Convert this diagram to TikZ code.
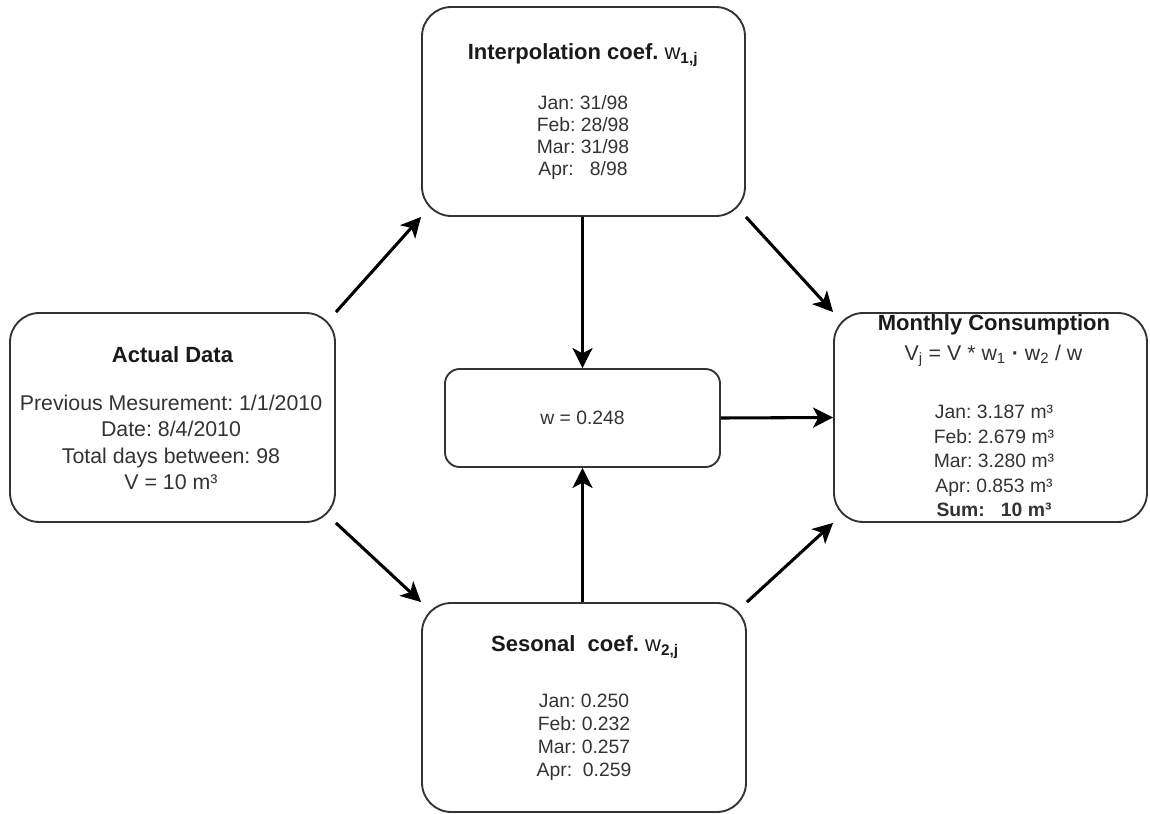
\documentclass[tikz,border=0pt]{standalone}
\usepackage{fontspec}
\setmainfont{Liberation Sans}
\usetikzlibrary{arrows.meta}
\definecolor{boxgray}{HTML}{333333}
\definecolor{txt}{HTML}{333333}
\definecolor{ttl}{HTML}{1A1A1A}
\tikzset{
  box/.style={draw=boxgray, line width=1.4pt, rounded corners=22pt, inner sep=0pt},
  smallbox/.style={draw=boxgray, line width=1.4pt, rounded corners=11pt, inner sep=0pt},
  ttlnode/.style={text=ttl, font=\fontsize{16.5}{19}\selectfont\bfseries, inner sep=0pt},
  bodynode/.style={text=txt, align=center, inner sep=0pt},
  arr/.style={draw=black, line width=2.3pt, -{Stealth[length=15pt,width=15pt,inset=4pt]}},
}
\frenchspacing
\begin{document}
\frenchspacing
\begin{tikzpicture}[x=0.75pt,y=-0.75pt]
\useasboundingbox (0,0) rectangle (1150,814);
% boxes
\node[box, minimum width=242.25pt, minimum height=156.75pt] (top) at (583.5,111.5) {};
\node[box, minimum width=243.75pt, minimum height=156.75pt] (left) at (172.5,417.5) {};
\node[box, minimum width=234.75pt, minimum height=156.75pt] (right) at (990.5,417.5) {};
\node[box, minimum width=243pt, minimum height=156.75pt] (bottom) at (584,707.5) {};
\node[smallbox, minimum width=206.25pt, minimum height=73.5pt] (center) at (582.5,418) {};
% texts: top
\node[ttlnode] (toptitle) at (583,55) {Interpolation coef. {\mdseries w\textsubscript{\bfseries 1,j}}};
\node[bodynode, font=\fontsize{14.5}{16.3}\selectfont] (topbody) at (583,137.5)
  {Jan: 31/98\\Feb: 28/98\\Mar: 31/98\\Apr:\ \ \ 8/98};
% left
\node[ttlnode] (lefttitle) at (172.5,355) {Actual Data};
\node[bodynode, font=\fontsize{16}{19.7}\selectfont] (leftbody) at (171,442.5)
  {Previous Mesurement: 1/1/2010\\Date: 8/4/2010\\Total days between: 98\\V = 10 m³};
% right
\node[ttlnode] (righttitle) at (994,325) {Monthly Consumption};
\node[bodynode, font=\fontsize{16}{19}\selectfont] (formula) at (993.5,356)
  {V\textsubscript{j} = V * w\textsubscript{1} {\bfseries ·} w\textsubscript{2} / w};
\node[bodynode, font=\fontsize{14.5}{18.4}\selectfont] (rightbody) at (994,461)
  {Jan: 3.187 m³\\Feb: 2.679 m³\\Mar: 3.280 m³\\Apr: 0.853 m³\\\textbf{Sum:\ \ \ 10 m³}};
% bottom
\node[ttlnode] (bottomtitle) at (585,647) {Sesonal\ \ coef. {\mdseries w\textsubscript{\bfseries 2,j}}};
\node[bodynode, font=\fontsize{14.5}{17.3}\selectfont] (bottombody) at (584,737.5)
  {Jan: 0.250\\Feb: 0.232\\Mar: 0.257\\Apr:\ \ 0.259};
% center
\node[bodynode, font=\fontsize{14.5}{17}\selectfont] (centertext) at (582.5,418) {w = 0.248};
% arrows
\draw[arr] (left.north east) -- (top.south west);
\draw[arr] (left.south east) -- (bottom.north west);
\draw[arr] (top.south east) -- (right.north west);
\draw[arr] (bottom.north east) -- (right.south west);
\draw[arr] (center.north |- top.south) -- (center.north);
\draw[arr] (center.south |- bottom.north) -- (center.south);
\draw[arr] (center.east) -- (right.west);
\end{tikzpicture}
\end{document}
